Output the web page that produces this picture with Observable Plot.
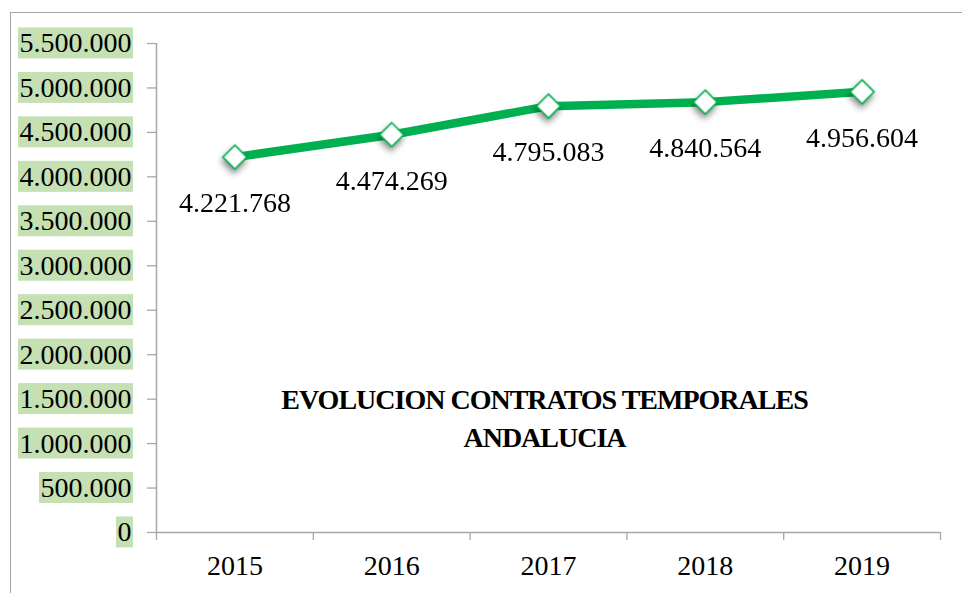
<!DOCTYPE html>
<html>
<head>
<meta charset="utf-8">
<script src="https://cdn.jsdelivr.net/npm/d3@7"></script>
<script src="https://cdn.jsdelivr.net/npm/@observablehq/plot@0.6"></script>
<style>
  html, body { margin: 0; padding: 0; background: white; }
  #wrap { position: relative; width: 962px; height: 593px; overflow: hidden; background: white; }
  #wrap svg { position: absolute; left: 0; top: 0; }
  #border { position: absolute; left: 10px; top: 12px; width: 1200px; height: 900px;
            border-left: 1.5px solid #a6a6a6; border-top: 1.5px solid #a6a6a6; pointer-events: none; }
</style>
</head>
<body>
<div id="wrap"></div>
<script>
// ---- data ----
const years = [2015, 2016, 2017, 2018, 2019];
const contracts = [4221768, 4474269, 4795083, 4840564, 4956604];
const yTicks = [0, 500000, 1000000, 1500000, 2000000, 2500000, 3000000, 3500000, 4000000, 4500000, 5000000, 5500000];
const titleLines = ["EVOLUCION CONTRATOS TEMPORALES", "ANDALUCIA"];

const data = years.map((y, i) => ({year: y, value: contracts[i]}));
const bandEdges = [years[0] - 0.5, ...years.map(y => y + 0.5)];

const locale = d3.formatLocale({decimal: ",", thousands: ".", grouping: [3], currency: ["", "€"]});
const fmt = locale.format(",d");

const GRAY = "#a6a6a6";
const GREEN = "#00b050";
const FONT = "'Liberation Serif', 'Times New Roman', serif";

const chart = Plot.plot({
  width: 962,
  height: 593,
  marginLeft: 156,
  marginRight: 22,
  marginTop: 43,
  marginBottom: 61,
  style: {fontFamily: FONT, fontSize: "28px", color: "black", background: "white"},
  x: {type: "linear", domain: [bandEdges[0], bandEdges[bandEdges.length - 1]]},
  y: {domain: [0, 5500000]},
  marks: [
    Plot.axisY(yTicks, {tickSize: 9, tickPadding: 16, stroke: GRAY, strokeWidth: 1.3, fill: "black",
      tickFormat: fmt, fontSize: 28, label: null}),
    Plot.axisX(bandEdges, {tickSize: 8, stroke: GRAY, strokeWidth: 1.3, tickFormat: () => "", label: null}),
    Plot.axisX(years, {tickSize: 0, tickPadding: 23, fill: "black", tickFormat: d => String(d), fontSize: 28, label: null}),
    Plot.ruleY([0], {stroke: GRAY, strokeWidth: 1.5}),
    Plot.ruleX([bandEdges[0]], {stroke: GRAY, strokeWidth: 1.5}),
    Plot.line(data, {x: "year", y: "value", stroke: GREEN, strokeWidth: 8.5, strokeLinecap: "butt"}),
    Plot.dot(data, {x: "year", y: "value", symbol: "diamond2", r: 10.8, fill: "white", stroke: GREEN, strokeWidth: 1.6}),
    Plot.text(data, {x: "year", y: "value", text: d => fmt(d.value), dy: 46, fontSize: 28, fill: "black", lineAnchor: "middle"}),
    Plot.text([titleLines.join("\n")], {frameAnchor: "middle", dx: -4, dy: 94, lineAnchor: "top", lineHeight: 1.36,
      fontSize: 28, fontWeight: "bold", fill: "black", textAnchor: "middle"})
  ]
});

const wrap = document.getElementById("wrap");
wrap.appendChild(chart);
const border = document.createElement("div");
border.id = "border";
wrap.appendChild(border);

// green backgrounds behind y tick labels
const svgns = "http://www.w3.org/2000/svg";
chart.querySelectorAll('g[aria-label="y-axis tick label"] text').forEach(t => {
  const b = t.getBBox();
  const r = document.createElementNS(svgns, "rect");
  r.setAttribute("x", b.x - 1.5);
  r.setAttribute("y", b.y);
  r.setAttribute("width", b.width + 3);
  r.setAttribute("height", b.height);
  r.setAttribute("fill", "#c5e0b3");
  if (t.getAttribute("transform")) r.setAttribute("transform", t.getAttribute("transform"));
  t.parentNode.insertBefore(r, t);
});
// title letter spacing and marker shadows
chart.querySelectorAll('g[aria-label="text"]').forEach((g, i, all) => {
  if (i === all.length - 1) g.setAttribute("letter-spacing", "-1");
});
chart.querySelectorAll('g[aria-label="dot"]').forEach(g => {
  g.style.filter = "drop-shadow(-1px 4px 3px rgba(0,0,0,0.45))";
});
</script>
</body>
</html>
